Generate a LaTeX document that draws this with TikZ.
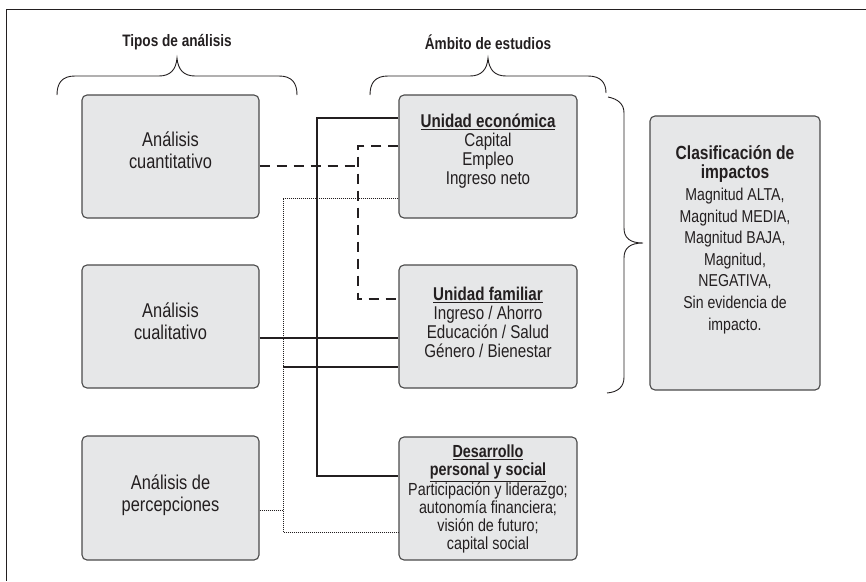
\documentclass[tikz,border=0pt]{standalone}
\usepackage{fontspec}
\setmainfont{Liberation Sans}[FakeStretch=0.82]
\definecolor{boxfill}{HTML}{E6E7E8}
\definecolor{boxline}{HTML}{4A4A4A}
\definecolor{ink}{HTML}{231F20}
\begin{document}
\begin{tikzpicture}[x=1pt,y=-1pt,
  box/.style={draw=boxline, fill=boxfill, line width=1.1pt, rounded corners=5pt, inner sep=0pt},
  abox/.style={box, minimum width=177pt, minimum height=123pt},
  bbox/.style={box, minimum width=178pt, minimum height=123pt},
  atext/.style={text=ink, align=center, inner sep=0pt, font=\fontsize{20}{22}\selectfont},
  btext/.style={text=ink, align=center, inner sep=0pt, font=\fontsize{18.5}{19}\selectfont},
  ctext/.style={text=ink, align=center, inner sep=0pt, font=\fontsize{17.2}{21.6}\selectfont},
  title/.style={text=ink, inner sep=0pt, font=\fontsize{16.6}{18}\selectfont\bfseries},
  brace/.style={draw=ink, line width=0.9pt},
  frame/.style={draw=ink, line width=1.4pt},
  solidline/.style={draw=ink, line width=1.1pt},
  dashline/.style={draw=ink, line width=2pt, dash pattern=on 10pt off 7pt},
  dotline/.style={draw=ink, line width=0.7pt, dash pattern=on 1pt off 1pt}
]
\useasboundingbox (0,0) rectangle (866,581);
% frame
\draw[frame] (866,9.5) -- (6.5,9.5) -- (6.5,581);

% titles
\node[title] (t1) at (177,42) {Tipos de análisis};
\node[title] (t2) at (488,42) {Ámbito de estudios};

% braces
\draw[brace] (57,95) .. controls (57,83) and (62,76) .. (75,76) -- (159,76)
  .. controls (170,76) and (176,70) .. (177,58)
  .. controls (178,70) and (184,76) .. (195,76) -- (279,76)
  .. controls (292,76) and (297,83) .. (297,95);
\draw[brace] (370,95) .. controls (370,83) and (375,76) .. (388,76) -- (470,76)
  .. controls (481,76) and (487,70) .. (488,58)
  .. controls (489,70) and (495,76) .. (506,76) -- (588,76)
  .. controls (601,76) and (606,83) .. (606,93);
\draw[brace] (608,97) .. controls (618,99) and (624,104) .. (624,113) -- (624,228)
  .. controls (624,238) and (630,243) .. (643,243)
  .. controls (630,243) and (624,248) .. (624,258) -- (624,377)
  .. controls (624,387) and (618,392) .. (607,393);

% boxes
\node[abox] (a1) at (170.5,156.5) {};
\node[abox] (a2) at (170.5,326.5) {};
\node[abox, minimum height=124pt] (a3) at (170.5,498) {};
\node[bbox] (b1) at (488,156.5) {};
\node[bbox] (b2) at (488,326.5) {};
\node[bbox] (b3) at (488,498.5) {};
\node[box, minimum width=170pt, minimum height=274pt] (c) at (735,253) {};

% box texts
\node[atext] (a1t) at (170.5,150) {Análisis\\cuantitativo};
\node[atext] (a2t) at (170.5,321) {Análisis\\cualitativo};
\node[atext] (a3t) at (170.5,495) {Análisis de\\percepciones};
\node[btext] (b1t) at (488,151.5) {\textbf{\underline{Unidad económica}}\\Capital\\Empleo\\Ingreso neto};
\node[btext] (b2t) at (488,322.5) {\textbf{\underline{Unidad familiar}}\\Ingreso / Ahorro\\Educación / Salud\\Género / Bienestar};
\node[btext, font=\fontsize{17.5}{18}\selectfont] (b3t) at (488,499) {\textbf{\underline{Desarrollo}}\\\textbf{\underline{personal y social}}\\Participación y liderazgo;\\autonomía financiera;\\visión de futuro;\\capital social};
\node[ctext] (ct) at (735,239.5) {{\fontsize{19}{18}\selectfont\bfseries Clasificación de}\\[-2.5pt]{\fontsize{19}{18}\selectfont\bfseries impactos}\\[0.5pt]Magnitud ALTA,\\Magnitud MEDIA,\\Magnitud BAJA,\\Magnitud,\\NEGATIVA,\\Sin evidencia de\\impacto.};

% junction coordinates
\coordinate (s1) at (317,118);
\coordinate (s2) at (317,476);
\coordinate (h2) at (330,338);
\coordinate (t3) at (283,367);
\coordinate (d1) at (358,166);
\coordinate (d2) at (358,146);
\coordinate (d3) at (358,299);
\coordinate (p1) at (283,198);
\coordinate (p2) at (283,532);
\coordinate (p4) at (283,510);

% solid connectors
\draw[solidline] (b1.west |- s1) -- (s1) -- (s2) -- (b3.west |- s2);
\draw[solidline] (a2.east |- h2) -- (b2.west |- h2);
\draw[solidline] (t3) -- (b2.west |- t3);
% dashed connectors
\draw[dashline] (a1.east |- d1) -- (d1);
\draw[dashline] (b1.west |- d2) -- (d2) -- (d3) -- (b2.west |- d3);
% dotted connectors
\draw[dotline] (b1.west |- p1) -- (p1) -- (p2) -- (b3.west |- p2);
\draw[dotline] (a3.east |- p4) -- (p4);
\end{tikzpicture}
\end{document}
